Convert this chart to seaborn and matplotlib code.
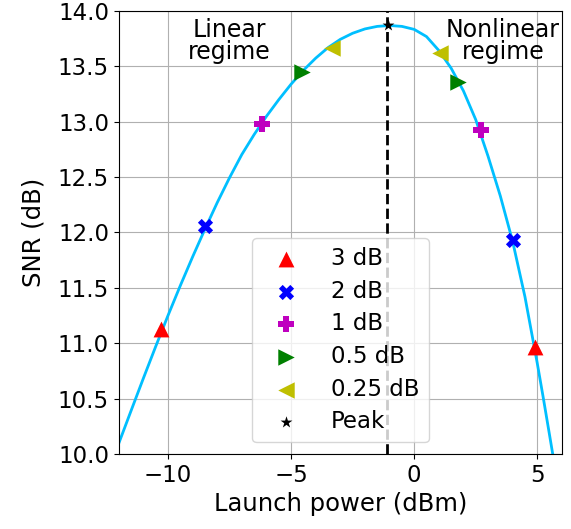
import matplotlib
matplotlib.use("Agg")
import matplotlib.pyplot as plt
import seaborn as sns
import pandas as pd

# SNR curve (launch power in dBm, SNR in dB)
power = [-12.0, -11.5, -11.0, -10.5, -10.0, -9.5, -9.0, -8.5, -8.0, -7.5,
         -7.0, -6.5, -6.0, -5.5, -5.0, -4.5, -4.0, -3.5, -3.0, -2.5,
         -2.0, -1.5, -1.0, -0.5, 0.0, 0.5, 1.0, 1.5, 2.0, 2.5,
         3.0, 3.5, 4.0, 4.5, 5.0, 5.25, 5.5, 5.8]
snr = [10.095, 10.39, 10.683, 10.97, 11.25, 11.52, 11.78, 12.03, 12.27, 12.495,
       12.705, 12.885, 13.05, 13.20, 13.34, 13.465, 13.575, 13.67, 13.745, 13.80,
       13.839, 13.862, 13.87, 13.862, 13.835, 13.77, 13.645, 13.485, 13.28, 13.02,
       12.69, 12.33, 11.92, 11.42, 10.82, 10.50, 10.17, 9.77]

# penalty points (left / right of the optimum)
labels = ["3 dB", "2 dB", "1 dB", "0.5 dB", "0.25 dB", "Peak"]
pts_x = [[-10.27, 4.90], [-8.48, 4.00], [-6.18, 2.71], [-4.54, 1.79], [-3.32, 1.04], [-1.08]]
pts_y = [[11.13, 10.97], [12.06, 11.93], [12.98, 12.93], [13.45, 13.36], [13.67, 13.62], [13.87]]
markers = ["^", "X", "P", ">", "<", "*"]
colors = ["red", "blue", "m", "green", "y", "black"]
sizes = [130, 120, 120, 140, 140, 80]

peak_power = -1.1

fig, ax = plt.subplots(figsize=(5.71, 5.29), dpi=100)
plt.subplots_adjust(left=0.208, right=0.984, bottom=0.142, top=0.979)

curve = pd.DataFrame({"power": power, "snr": snr})
sns.lineplot(data=curve, x="power", y="snr", color="#00bfff", linewidth=2,
             sort=False, ax=ax, zorder=2)

ax.axvline(peak_power, color="black", linestyle="--", linewidth=2, zorder=2)

for lab, xs, ys, mk, c, s in zip(labels, pts_x, pts_y, markers, colors, sizes):
    sns.scatterplot(x=xs, y=ys, marker=mk, color=c, s=s, linewidth=0,
                    label=lab, ax=ax, zorder=3)

ax.text(-7.5, 13.94, "Linear\nregime", ha="center", va="top", fontsize=17,
        linespacing=0.9)
ax.text(3.6, 13.94, "Nonlinear\nregime", ha="center", va="top", fontsize=17,
        linespacing=0.9)

ax.set_xlim(-12, 6)
ax.set_ylim(10, 14)
ax.set_xticks([-10, -5, 0, 5])
ax.set_yticks([10.0, 10.5, 11.0, 11.5, 12.0, 12.5, 13.0, 13.5, 14.0])
ax.set_yticklabels(["10.0", "10.5", "11.0", "11.5", "12.0", "12.5", "13.0", "13.5", "14.0"])
ax.tick_params(labelsize=16.5)
ax.set_xlabel("Launch power (dBm)", fontsize=17.5)
ax.set_ylabel("SNR (dB)", fontsize=17.5, labelpad=9)
ax.grid(True)
ax.set_axisbelow(True)

ax.legend(loc="lower center", fontsize=16.5, handlelength=2.2,
          handletextpad=0.85, labelspacing=0.42)

plt.savefig("out.png", dpi=100)
